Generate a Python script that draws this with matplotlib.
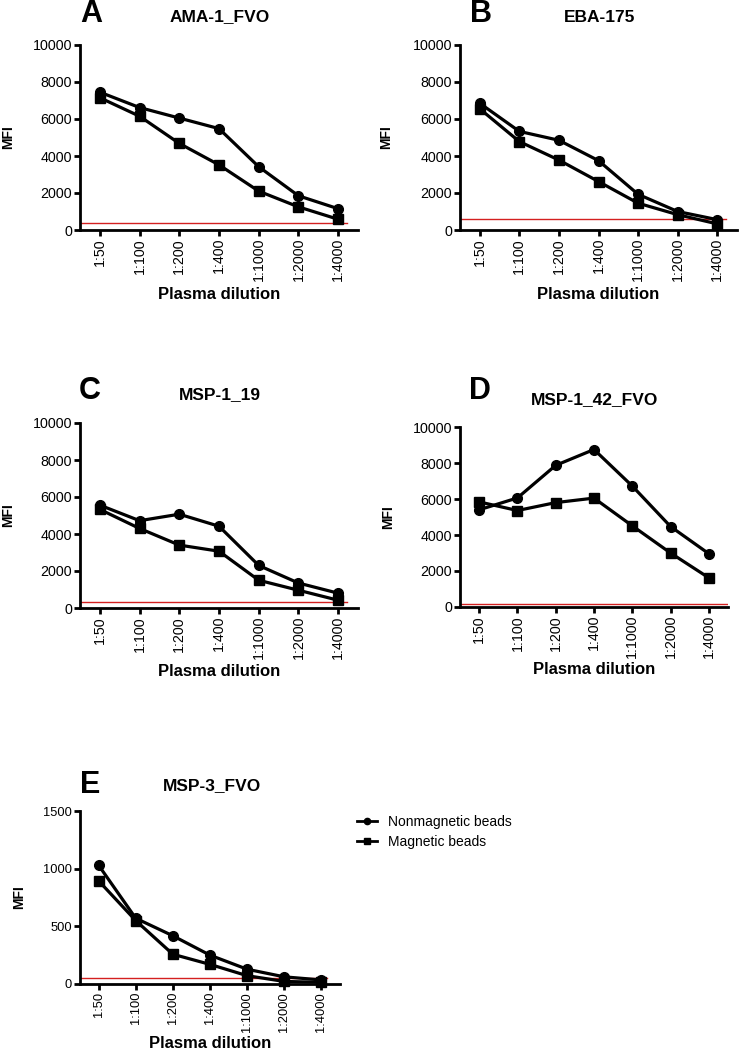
import matplotlib
matplotlib.use("Agg")
import matplotlib.pyplot as plt
from matplotlib.lines import Line2D

plt.rcParams['font.family'] = ['Liberation Sans', 'DejaVu Sans']

dilutions = ["1:50", "1:100", "1:200", "1:400", "1:1000", "1:2000", "1:4000"]

panel_letters = ["A", "B", "C", "D", "E"]
antigens = ["AMA-1_FVO", "EBA-175", "MSP-1_19", "MSP-1_42_FVO", "MSP-3_FVO"]
series_names = ["Nonmagnetic beads", "Magnetic beads"]

ama1_nonmag = [7450, 6620, 6050, 5480, 3420, 1850, 1150]
ama1_mag = [7150, 6150, 4680, 3520, 2100, 1250, 580]
ama1_cutoff = 400

eba175_nonmag = [6850, 5330, 4850, 3750, 1930, 1000, 560]
eba175_mag = [6550, 4780, 3780, 2620, 1450, 830, 330]
eba175_cutoff = 600

msp119_nonmag = [5560, 4720, 5070, 4420, 2300, 1350, 800]
msp119_mag = [5330, 4300, 3400, 3070, 1500, 960, 420]
msp119_cutoff = 310

msp142_nonmag = [5400, 6060, 7870, 8750, 6720, 4470, 2960]
msp142_mag = [5840, 5360, 5800, 6050, 4510, 3000, 1620]
msp142_cutoff = 150

msp3_nonmag = [1030, 570, 418, 250, 128, 62, 35]
msp3_mag = [895, 550, 258, 170, 72, 22, 15]
msp3_cutoff = 48

nonmag = [ama1_nonmag, eba175_nonmag, msp119_nonmag, msp142_nonmag, msp3_nonmag]
mag = [ama1_mag, eba175_mag, msp119_mag, msp142_mag, msp3_mag]
cutoffs = [ama1_cutoff, eba175_cutoff, msp119_cutoff, msp142_cutoff, msp3_cutoff]
yticks = [[0, 2000, 4000, 6000, 8000, 10000]] * 4 + [[0, 500, 1000, 1500]]
ymax = [10000] * 4 + [1500]

W, H = 740, 1051
fig = plt.figure(figsize=(W / 100, H / 100), dpi=100)

# pixel boxes: left, right, top, bottom
boxes = [(80, 358, 45, 230), (460, 737, 45, 230), (80, 358, 423, 608),
         (460, 728, 427, 607), (80, 340, 811, 984)]
ylab_x = [-0.234, -0.242, -0.234, -0.243, -0.208]
xlab_top = [287, 287, 664, 662, 1036]
red_xmax = [0.96, 0.96, 0.96, 1.0, 0.95]
letter_pos = [(91, 14), (481, 14), (90, 391), (480, 391), (90, 785)]
title_pos = [(220, 17), (600, 17), (220, 395), (595, 400), (212, 786)]
tick_fs = [10.3, 10.3, 10.3, 10.3, 9.3]

lw = 2.3
for i in range(5):
    l, r, t, b = boxes[i]
    hpx = b - t
    ax = fig.add_axes([l / W, 1 - b / H, (r - l) / W, hpx / H])
    x = list(range(len(dilutions)))
    ax.plot(x, nonmag[i], color='black', lw=lw, marker='o', ms=7,
            clip_on=False, zorder=3)
    ax.plot(x, mag[i], color='black', lw=lw, marker='s', ms=7,
            clip_on=False, zorder=3)
    ax.axhline(cutoffs[i], xmin=0, xmax=red_xmax[i], color='#d42020', lw=1.0, zorder=2)
    ax.set_xlim(-0.5, 6.5)
    ax.set_ylim(0, ymax[i])
    ax.set_yticks(yticks[i])
    ax.set_xticks(x)
    ax.set_xticklabels(dilutions, rotation=90)
    for s in ['top', 'right']:
        ax.spines[s].set_visible(False)
    for s in ['left', 'bottom']:
        ax.spines[s].set_linewidth(2.0)
    ax.tick_params(axis='both', width=2.0, length=4.5, labelsize=tick_fs[i], pad=1.2)
    ax.set_ylabel('MFI', fontsize=10, fontweight='bold')
    ax.yaxis.set_label_coords(ylab_x[i], 0.5)
    ax.set_xlabel('Plasma dilution', fontsize=12, fontweight='bold')
    ax.xaxis.set_label_coords(0.5, -(xlab_top[i] - b) / hpx)
    fig.text(letter_pos[i][0] / W, 1 - letter_pos[i][1] / H, panel_letters[i],
             fontsize=22, fontweight='bold', ha='center', va='center')
    fig.text(title_pos[i][0] / W, 1 - title_pos[i][1] / H, antigens[i],
             fontsize=12.5, fontweight='bold', ha='center', va='center')

handles = [Line2D([], [], color='black', lw=2.0, marker='o', ms=4.5),
           Line2D([], [], color='black', lw=2.0, marker='s', ms=4.5)]
fig.legend(handles, series_names, loc='upper left',
           bbox_to_anchor=(357 / W, 1 - 815 / H), frameon=False,
           fontsize=10, handlelength=1.45, handletextpad=0.8,
           labelspacing=0.45, borderaxespad=0, borderpad=0)

fig.savefig('out.png', dpi=100)
